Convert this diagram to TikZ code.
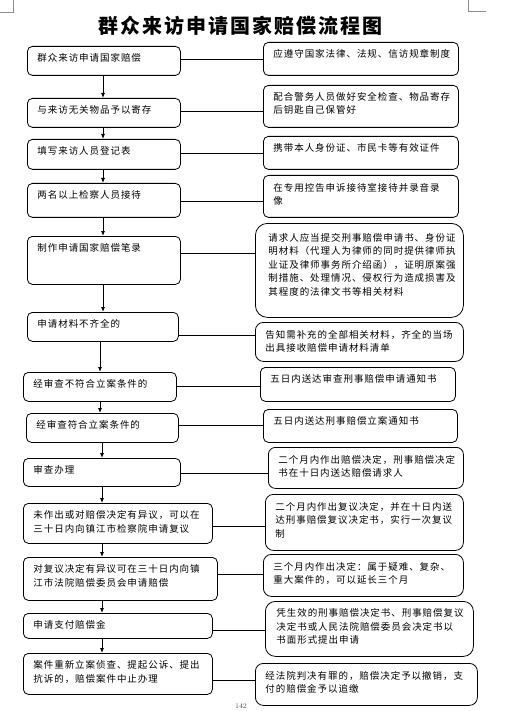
\documentclass[tikz,border=0pt]{standalone}
\usepackage{fontspec}
\newfontfamily\cjk[LetterSpace=10]{Noto Sans CJK SC}
\usetikzlibrary{arrows.meta}
\begin{document}
\begin{tikzpicture}[x=1pt,y=-1pt,line width=0.8pt,
  box/.style={draw,rounded corners=5pt,anchor=north west,inner sep=0pt},
  txt/.style={anchor=north west,align=left,inner sep=0pt,font={\cjk\fontsize{9.5}{13.5}\selectfont}},
  arr/.style={-{Latex[length=5pt,width=4pt]}},
  cropmark/.style={draw=black!45,line width=0.6pt}]
\useasboundingbox (0,0) rectangle (505,711);
\clip (0,0) rectangle (505,711);
% crop marks and title
\draw[cropmark] (0,12) -- (13,12) -- (13,0);
\draw[cropmark] (468,0) -- (468,11) -- (486,11);
\node[font={\cjk\bfseries\fontsize{20}{24}\selectfont}] (title) at (240,26) {群众来访申请国家赔偿流程图};
% left column
\node[box,minimum width=153pt,minimum height=29pt] (l1) at (27,46) {};
\node[txt] (t1) at ([shift={(10,7.5)}]l1.north west) {群众来访申请国家赔偿};
\node[box,minimum width=153pt,minimum height=29pt] (l2) at (27,98) {};
\node[txt] (t2) at ([shift={(10,7.5)}]l2.north west) {与来访无关物品予以寄存};
\node[box,minimum width=153pt,minimum height=30pt] (l3) at (27,139) {};
\node[txt] (t3) at ([shift={(10,7.5)}]l3.north west) {填写来访人员登记表};
\node[box,minimum width=153pt,minimum height=34pt] (l4) at (27,183) {};
\node[txt] (t4) at ([shift={(10,7.5)}]l4.north west) {两名以上检察人员接待};
\node[box,minimum width=153pt,minimum height=48pt] (l5) at (27,236) {};
\node[txt] (t5) at ([shift={(10,7.5)}]l5.north west) {制作申请国家赔偿笔录};
\node[box,minimum width=151pt,minimum height=29pt] (l6) at (27,312) {};
\node[txt] (t6) at ([shift={(10,7.5)}]l6.north west) {申请材料不齐全的};
\node[box,minimum width=153pt,minimum height=29pt] (l7) at (23,372) {};
\node[txt] (t7) at ([shift={(10,7.5)}]l7.north west) {经审查不符合立案条件的};
\node[box,minimum width=152pt,minimum height=29pt] (l8) at (26,413) {};
\node[txt] (t8) at ([shift={(10,7.5)}]l8.north west) {经审查符合立案条件的};
\node[box,minimum width=157pt,minimum height=28pt] (l9) at (23,458) {};
\node[txt] (t9) at ([shift={(10,7.5)}]l9.north west) {审查办理};
\node[box,minimum width=189pt,minimum height=40pt] (l10) at (23,503) {};
\node[txt] (t10) at ([shift={(10,7.5)}]l10.north west) {未作出或对赔偿决定有异议，可以在\\三十日内向镇江市检察院申请复议};
\node[box,minimum width=194pt,minimum height=43pt] (l11) at (23,557) {};
\node[txt] (t11) at ([shift={(10,7.5)}]l11.north west) {对复议决定有异议可在三十日内向镇\\江市法院赔偿委员会申请赔偿};
\node[box,minimum width=189pt,minimum height=25pt] (l12) at (23,613) {};
\node[txt] (t12) at ([shift={(10,7.5)}]l12.north west) {申请支付赔偿金};
\node[box,minimum width=189pt,minimum height=41pt] (l13) at (23,653) {};
\node[txt] (t13) at ([shift={(10,7.5)}]l13.north west) {案件重新立案侦查、提起公诉、提出\\抗诉的，赔偿案件中止办理};
% right column
\node[box,minimum width=195pt,minimum height=33pt] (r1) at (263,42) {};
\node[txt] (s1) at ([shift={(10,6.5)}]r1.north west) {应遵守国家法律、法规、信访规章制度};
\node[box,minimum width=195pt,minimum height=42pt] (r2) at (263,85) {};
\node[txt] (s2) at ([shift={(10,7)}]r2.north west) {配合警务人员做好安全检查、物品寄存\\后钥匙自己保管好};
\node[box,minimum width=195pt,minimum height=33pt] (r3) at (263,136) {};
\node[txt] (s3) at ([shift={(10,7)}]r3.north west) {携带本人身份证、市民卡等有效证件};
\node[box,minimum width=195pt,minimum height=42pt] (r4) at (263,175) {};
\node[txt] (s4) at ([shift={(10,8)}]r4.north west) {在专用控告申诉接待室接待并录音录\\像};
\node[box,rounded corners=12pt,minimum width=208pt,minimum height=94pt] (r5) at (255,223) {};
\node[txt] (s5) at ([shift={(13,10)}]r5.north west) {请求人应当提交刑事赔偿申请书、身份证\\明材料（代理人为律师的同时提供律师执\\业证及律师事务所介绍函），证明原案强\\制措施、处理情况、侵权行为造成损害及\\其程度的法律文书等相关材料};
\node[box,rounded corners=8pt,minimum width=208pt,minimum height=39pt] (r6) at (255,322) {};
\node[txt] (s6) at ([shift={(10,8)}]r6.north west) {告知需补充的全部相关材料，齐全的当场\\出具接收赔偿申请材料清单};
\node[box,minimum width=195pt,minimum height=34pt] (r7) at (260,367) {};
\node[txt] (s7) at ([shift={(10,7)}]r7.north west) {五日内送达审查刑事赔偿申请通知书};
\node[box,minimum width=194pt,minimum height=33pt] (r8) at (263,409) {};
\node[txt] (s8) at ([shift={(10,7)}]r8.north west) {五日内送达刑事赔偿立案通知书};
\node[box,rounded corners=7pt,minimum width=195pt,minimum height=41pt] (r9) at (268,447) {};
\node[txt] (s9) at ([shift={(10,8)}]r9.north west) {二个月内作出赔偿决定，刑事赔偿决定\\书在十日内送达赔偿请求人};
\node[box,rounded corners=8pt,minimum width=198pt,minimum height=56pt] (r10) at (265,494) {};
\node[txt] (s10) at ([shift={(10,8)}]r10.north west) {二个月内作出复议决定，并在十日内送\\达刑事赔偿复议决定书，实行一次复议\\制};
\node[box,rounded corners=8pt,minimum width=200pt,minimum height=42pt] (r11) at (263,554) {};
\node[txt] (s11) at ([shift={(10,8)}]r11.north west) {三个月内作出决定：属于疑难、复杂、\\重大案件的，可以延长三个月};
\node[box,rounded corners=10pt,minimum width=208pt,minimum height=55pt] (r12) at (265,601) {};
\node[txt] (s12) at ([shift={(11,7.5)}]r12.north west) {凭生效的刑事赔偿决定书、刑事赔偿复议\\决定书或人民法院赔偿委员会决定书以\\书面形式提出申请};
\node[box,rounded corners=8pt,minimum width=222pt,minimum height=42pt] (r13) at (255,663) {};
\node[txt] (s13) at ([shift={(10,8)}]r13.north west) {经法院判决有罪的，赔偿决定予以撤销，支\\付的赔偿金予以追缴};
% arrows down the left column
\foreach \a/\b in {1/2,2/3,3/4,4/5,5/6}
  \draw[arr] (l\a.south -| 103,0) -- (l\b.north -| 103,0);
\foreach \a/\b in {6/7,7/8}
  \draw[arr] (l\a.south -| 100,0) -- (l\b.north -| 100,0);
\foreach \a/\b in {8/9,9/10,10/11,11/12,12/13}
  \draw[arr] (l\a.south -| 102,0) -- (l\b.north -| 102,0);
% side links
\foreach \i/\y in {1/59,2/111,3/153,4/201,5/253,6/335,7/386,8/425,9/473,10/526,11/574,12/630,13/680}
  \draw (l\i.east |- 0,\y) -- (r\i.west |- 0,\y);
% page number
\node[font=\fontsize{7}{8}\selectfont,text=black!70,inner sep=0pt] (page) at (241,706.5) {142};
\end{tikzpicture}
\end{document}
